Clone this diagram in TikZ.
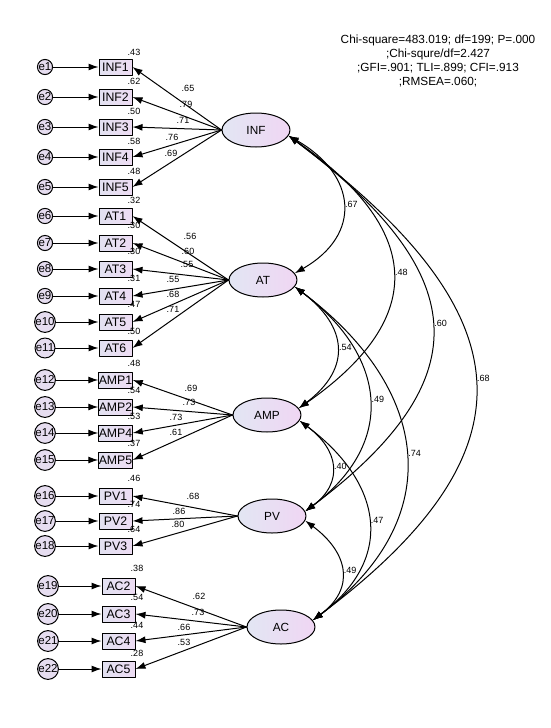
\documentclass[tikz,border=0pt]{standalone}
\usepackage{fontspec}
\setmainfont{Liberation Sans}
\usetikzlibrary{arrows.meta,shapes.geometric}

\definecolor{errF}{HTML}{E6DDF0}
\definecolor{boxL}{HTML}{E2E1F1}
\definecolor{boxR}{HTML}{EDDCF3}
\definecolor{latL}{HTML}{E2E6F3}
\definecolor{latR}{HTML}{F0D6F3}

\begin{document}
\begin{tikzpicture}[x=1pt, y=-1pt, line width=1pt, line cap=round, line join=round,
  errc/.style={circle, draw, fill=errF, minimum size=15pt, inner sep=0pt, font=\fontsize{11.5}{13}\selectfont},
  obs/.style={rectangle, draw, left color=boxL, right color=boxR, minimum width=33pt, minimum height=16pt, inner sep=0pt, font=\fontsize{12.3}{14}\selectfont},
  lat/.style={ellipse, draw, left color=latL, right color=latR, minimum width=68pt, minimum height=34pt, inner sep=0pt, font=\fontsize{11.8}{14}\selectfont},
  num/.style={inner sep=0pt, font=\fontsize{9}{10}\selectfont},
  arr/.style={-{Latex[length=10pt,width=7pt]}},
  cov/.style={{Latex[length=10pt,width=7pt]}-{Latex[length=10pt,width=7pt]}}]

  %% ════ latent factors ════
  \node[lat] (INF) at (256,130) {INF};
  \node[lat] (AT)  at (263,280) {AT};
  \node[lat] (AMP) at (267,415) {AMP};
  \node[lat] (PV)  at (272,516) {PV};
  \node[lat] (AC)  at (281,627) {AC};

  %% ════ INF block ════
  \node[errc] (e1) at (45,67)  {e1};  \node[obs] (INF1) at (115.5,67)  {INF1};
  \node[errc] (e2) at (45,97)  {e2};  \node[obs] (INF2) at (115.5,97)  {INF2};
  \node[errc] (e3) at (45,127) {e3};  \node[obs] (INF3) at (115.5,127) {INF3};
  \node[errc] (e4) at (45,157) {e4};  \node[obs] (INF4) at (115.5,157) {INF4};
  \node[errc] (e5) at (45,187) {e5};  \node[obs] (INF5) at (115.5,187) {INF5};

  %% ════ AT block ════
  \node[errc] (e6)  at (45,216) {e6};  \node[obs] (AT1) at (115.5,216) {AT1};
  \node[errc] (e7)  at (45,243) {e7};  \node[obs] (AT2) at (115.5,243) {AT2};
  \node[errc] (e8)  at (45,269) {e8};  \node[obs] (AT3) at (115.5,269) {AT3};
  \node[errc] (e9)  at (45,296) {e9};  \node[obs] (AT4) at (115.5,296) {AT4};
  \node[errc] (e10) at (45,322) {e10}; \node[obs] (AT5) at (115.5,322) {AT5};
  \node[errc] (e11) at (45,348) {e11}; \node[obs] (AT6) at (115.5,348) {AT6};

  %% ════ AMP block ════
  \node[errc] (e12) at (45,380) {e12}; \node[obs] (AMP1) at (115.5,380) {AMP1};
  \node[errc] (e13) at (45,407) {e13}; \node[obs] (AMP2) at (115.5,407) {AMP2};
  \node[errc] (e14) at (45,433) {e14}; \node[obs] (AMP4) at (115.5,433) {AMP4};
  \node[errc] (e15) at (45,460) {e15}; \node[obs] (AMP5) at (115.5,460) {AMP5};

  %% ════ PV block ════
  \node[errc] (e16) at (45,496) {e16}; \node[obs] (PV1) at (115.5,496) {PV1};
  \node[errc] (e17) at (45,521) {e17}; \node[obs] (PV2) at (115.5,521) {PV2};
  \node[errc] (e18) at (45,546) {e18}; \node[obs] (PV3) at (115.5,546) {PV3};

  %% ════ AC block ════
  \node[errc] (e19) at (48,586) {e19}; \node[obs] (AC2) at (118.5,586) {AC2};
  \node[errc] (e20) at (48,614) {e20}; \node[obs] (AC3) at (118.5,614) {AC3};
  \node[errc] (e21) at (48,641) {e21}; \node[obs] (AC4) at (118.5,641) {AC4};
  \node[errc] (e22) at (48,669) {e22}; \node[obs] (AC5) at (118.5,669) {AC5};

  %% ════ error arrows ════
  \draw[arr] (e1) -- (INF1);  \draw[arr] (e2) -- (INF2);  \draw[arr] (e3) -- (INF3);
  \draw[arr] (e4) -- (INF4);  \draw[arr] (e5) -- (INF5);
  \draw[arr] (e6) -- (AT1);   \draw[arr] (e7) -- (AT2);   \draw[arr] (e8) -- (AT3);
  \draw[arr] (e9) -- (AT4);   \draw[arr] (e10) -- (AT5);  \draw[arr] (e11) -- (AT6);
  \draw[arr] (e12) -- (AMP1); \draw[arr] (e13) -- (AMP2); \draw[arr] (e14) -- (AMP4);
  \draw[arr] (e15) -- (AMP5);
  \draw[arr] (e16) -- (PV1);  \draw[arr] (e17) -- (PV2);  \draw[arr] (e18) -- (PV3);
  \draw[arr] (e19) -- (AC2);  \draw[arr] (e20) -- (AC3);  \draw[arr] (e21) -- (AC4);
  \draw[arr] (e22) -- (AC5);

  %% ════ loadings ════
  \draw[arr] (INF.west) -- (INF1.east); \draw[arr] (INF.west) -- (INF2.east);
  \draw[arr] (INF.west) -- (INF3.east); \draw[arr] (INF.west) -- (INF4.east);
  \draw[arr] (INF.west) -- (INF5.east);
  \draw[arr] (AT.west) -- (AT1.east); \draw[arr] (AT.west) -- (AT2.east);
  \draw[arr] (AT.west) -- (AT3.east); \draw[arr] (AT.west) -- (AT4.east);
  \draw[arr] (AT.west) -- (AT5.east); \draw[arr] (AT.west) -- (AT6.east);
  \draw[arr] (AMP.west) -- (AMP1.east); \draw[arr] (AMP.west) -- (AMP2.east);
  \draw[arr] (AMP.west) -- (AMP4.east); \draw[arr] (AMP.west) -- (AMP5.east);
  \draw[arr] (PV.west) -- (PV1.east); \draw[arr] (PV.west) -- (PV2.east);
  \draw[arr] (PV.west) -- (PV3.east);
  \draw[arr] (AC.west) -- (AC2.east); \draw[arr] (AC.west) -- (AC3.east);
  \draw[arr] (AC.west) -- (AC4.east); \draw[arr] (AC.west) -- (AC5.east);

  %% ════ covariances ════
  \draw[cov] (INF.-10) .. controls +(68,39) and +(68,-39) .. (AT.12) node[num, pos=0.5, right=2pt] (c1) {.67};
  \draw[cov] (INF.-10) .. controls +(132,92) and +(132,-92) .. (AMP.12) node[num, pos=0.5, right=2pt] (c2) {.48};
  \draw[cov] (INF.-10) .. controls +(180,135) and +(180,-135) .. (PV.8) node[num, pos=0.5, right=2pt] (c3) {.60};
  \draw[cov] (INF.-10) .. controls +(232,174) and +(232,-174) .. (AC.12) node[num, pos=0.5, right=2pt] (c4) {.68};
  \draw[cov] (AT.-12) .. controls +(53,40) and +(53,-40) .. (AMP.12) node[num, pos=0.5, right=2pt] (c5) {.54};
  \draw[cov] (AT.-12) .. controls +(92,69) and +(92,-69) .. (PV.8) node[num, pos=0.5, right=2pt] (c6) {.49};
  \draw[cov] (AT.-12) .. controls +(136,102) and +(136,-102) .. (AC.12) node[num, pos=0.5, right=2pt] (c7) {.74};
  \draw[cov] (AMP.-10) .. controls +(39,29) and +(39,-29) .. (PV.8) node[num, pos=0.5, right=2pt] (c8) {.40};
  \draw[cov] (AMP.-10) .. controls +(83,62) and +(83,-62) .. (AC.12) node[num, pos=0.5, right=2pt] (c9) {.47};
  \draw[cov] (PV.-8) .. controls +(43,32) and +(43,-32) .. (AC.12) node[num, pos=0.5, right=2pt] (c10) {.49};

  %% ════ squared multiple correlations ════
  \node[num] (r1) at (134,52) {.43};  \node[num] (r2) at (134,81) {.62};
  \node[num] (r3) at (134,111) {.50}; \node[num] (r4) at (134,141) {.58};
  \node[num] (r5) at (134,171) {.48};
  \node[num] (r6) at (134,200) {.32};  \node[num] (r7) at (134,225) {.30};
  \node[num] (r8) at (134,251) {.30};  \node[num] (r9) at (134,278) {.31};
  \node[num] (r10) at (134,304) {.47}; \node[num] (r11) at (134,331) {.50};
  \node[num] (r12) at (134,363) {.48}; \node[num] (r13) at (134,390) {.54};
  \node[num] (r14) at (134,416) {.53}; \node[num] (r15) at (134,443) {.37};
  \node[num] (r16) at (134,478) {.46}; \node[num] (r17) at (134,504) {.74};
  \node[num] (r18) at (134,529) {.64};
  \node[num] (r19) at (137,568) {.38}; \node[num] (r20) at (137,597) {.54};
  \node[num] (r21) at (137,625) {.44}; \node[num] (r22) at (137,653) {.28};

  %% ════ loading labels ════
  \node[num] (l1) at (188,88) {.65};  \node[num] (l2) at (186,104) {.79};
  \node[num] (l3) at (183,120) {.71}; \node[num] (l4) at (172,137) {.76};
  \node[num] (l5) at (171,153) {.69};
  \node[num] (l6) at (190,236) {.56};  \node[num] (l7) at (188,251) {.60};
  \node[num] (l8) at (187,264) {.55};  \node[num] (l9) at (173,279) {.55};
  \node[num] (l10) at (173,294) {.68}; \node[num] (l11) at (173,309) {.71};
  \node[num] (l12) at (191,388) {.69}; \node[num] (l13) at (189,402) {.73};
  \node[num] (l14) at (176,417) {.73}; \node[num] (l15) at (176,432) {.61};
  \node[num] (l16) at (193,496) {.68}; \node[num] (l17) at (179,511) {.86};
  \node[num] (l18) at (178,524) {.80};
  \node[num] (l19) at (199,596) {.62}; \node[num] (l20) at (198,612) {.73};
  \node[num] (l21) at (184,627) {.66}; \node[num] (l22) at (184,642) {.53};

  %% ════ fit indices ════
  \node[align=center, inner sep=0pt, font=\fontsize{11.8}{14}\selectfont] (fit) at (438,61)
    {Chi-square=483.019; df=199; P=.000\\;Chi-squre/df=2.427\\;GFI=.901; TLI=.899; CFI=.913\\;RMSEA=.060;};

  % fix the canvas to the reference size
  \pgfresetboundingbox
  \path[use as bounding box] (0,0) rectangle (551,728);
\end{tikzpicture}
\end{document}
